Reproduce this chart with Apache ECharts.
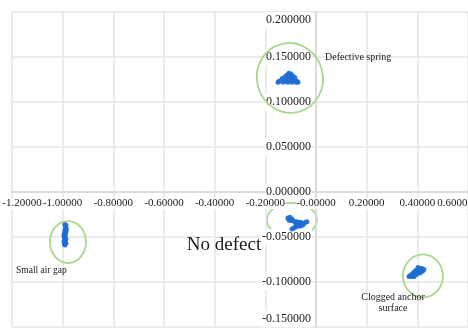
<!DOCTYPE html>
<html>
<head>
<meta charset="utf-8">
<script src="https://cdn.jsdelivr.net/npm/echarts@6/dist/echarts.min.js"></script>
<style>
  html, body { margin: 0; padding: 0; background: #fff; }
  #chart { width: 468px; height: 332px; }
</style>
</head>
<body>
<div id="chart"></div>
<script>
// Feature-space clusters for each solenoid condition (x, y)
const defectiveSpring = [
  [-0.107, 0.132], [-0.099, 0.131], [-0.114, 0.130], [-0.103, 0.129], [-0.091, 0.129],
  [-0.122, 0.128], [-0.111, 0.127], [-0.095, 0.127], [-0.083, 0.127], [-0.134, 0.126],
  [-0.118, 0.124], [-0.103, 0.124], [-0.087, 0.124], [-0.075, 0.123], [-0.146, 0.123],
  [-0.122, 0.123], [-0.130, 0.122], [-0.111, 0.122], [-0.095, 0.122], [-0.079, 0.122],
  [-0.150, 0.122], [-0.071, 0.122]
];
const smallAirGap = [
  [-0.991, -0.036], [-0.987, -0.037], [-0.989, -0.039], [-0.985, -0.041], [-0.991, -0.042],
  [-0.987, -0.044], [-0.993, -0.045], [-0.989, -0.047], [-0.995, -0.048], [-0.991, -0.050],
  [-0.993, -0.051], [-0.987, -0.052], [-0.991, -0.054], [-0.995, -0.055], [-0.989, -0.056],
  [-0.993, -0.058], [-0.991, -0.059], [-0.987, -0.057]
];
const noDefect = [
  [-0.111, -0.029], [-0.103, -0.028], [-0.095, -0.030], [-0.107, -0.031], [-0.091, -0.032],
  [-0.083, -0.033], [-0.075, -0.033], [-0.067, -0.034], [-0.059, -0.034], [-0.051, -0.036],
  [-0.043, -0.034], [-0.036, -0.033], [-0.079, -0.036], [-0.071, -0.037], [-0.079, -0.039],
  [-0.087, -0.040], [-0.095, -0.041], [-0.063, -0.038], [-0.055, -0.037], [-0.099, -0.032]
];
const cloggedAnchor = [
  [0.403, -0.084], [0.411, -0.085], [0.418, -0.085], [0.426, -0.086], [0.395, -0.087],
  [0.403, -0.087], [0.411, -0.087], [0.420, -0.088], [0.387, -0.089], [0.395, -0.089],
  [0.403, -0.090], [0.411, -0.090], [0.379, -0.091], [0.387, -0.092], [0.395, -0.092],
  [0.371, -0.093], [0.379, -0.094], [0.387, -0.094], [0.367, -0.094]
];

// Axis ranges and tick spacing
const xRange = [-1.2, 0.6];
const xStep = 0.2;
const yRange = [-0.15, 0.2];
const yStep = 0.05;

// Group outlines: centre in data units, radii in px
const outlines = [
  { name: 'Defective spring', center: [-0.103, 0.1267], rx: 33, ry: 35, rot: 0.25, under: false },
  { name: 'Small air gap', center: [-0.979, -0.0556], rx: 18, ry: 21, rot: 0, under: false },
  { name: 'No defect', center: [-0.095, -0.031], rx: 25, ry: 17, rot: 0, under: true },
  { name: 'Clogged anchor', center: [0.422, -0.0933], rx: 20, ry: 21.5, rot: 0, under: false }
];

// Group captions anchored in data units
const captions = [
  { text: 'Defective spring', at: [0.0355, 0.150], size: 10, align: 'left' },
  { text: 'Small air gap', at: [-1.184, -0.0867], size: 9.5, align: 'left' },
  { text: 'No defect', at: [-0.363, -0.059], size: 19, align: 'center' },
  { text: 'Clogged anchor\nsurface', at: [0.304, -0.123], size: 10, align: 'center' }
];

const FONT = '"Liberation Serif", "Times New Roman", serif';
const BLUE = '#1c6dd0';
const GREEN = '#a9d78f';
const X_FONT = 11;

const chart = echarts.init(document.getElementById('chart'), null, { renderer: 'canvas' });

function scatter(name, data) {
  return {
    name: name,
    type: 'scatter',
    data: data,
    z: 4,
    symbolSize: 5,
    itemStyle: { color: BLUE, opacity: 0.9 }
  };
}

function xTickText(v) {
  // zero tick carries a negative sign in the source export
  const s = Math.abs(v) < 1e-9 ? '-0.00000' : v.toFixed(5);
  // end labels are nudged inwards so they stay on the canvas
  if (Math.abs(v - xRange[0]) < 1e-9) return '{lead|' + s + '}';
  if (Math.abs(v - xRange[1]) < 1e-9) return '{tail|' + s + '}';
  return s;
}

const xRich = { fontFamily: FONT, fontSize: X_FONT, color: '#222' };

chart.setOption({
  animation: false,
  backgroundColor: '#ffffff',
  grid: { left: 12, right: 0, top: 12, bottom: 5, containLabel: false, outerBoundsMode: 'none' },
  xAxis: {
    type: 'value',
    min: xRange[0], max: xRange[1], interval: xStep,
    z: 3,
    axisLine: { onZero: false, lineStyle: { color: '#d6d6d6', width: 1.5 } },
    axisTick: { show: false },
    splitLine: { lineStyle: { color: '#e4e4e4', width: 1.5 } },
    axisLabel: {
      margin: 6,
      fontFamily: FONT, fontSize: X_FONT, color: '#222',
      backgroundColor: '#fff', padding: 0,
      showMinLabel: true, showMaxLabel: true,
      hideOverlap: false,
      formatter: xTickText,
      rich: {
        lead: Object.assign({ padding: [0, 0, 0, 20] }, xRich),
        tail: Object.assign({ padding: [0, 26, 0, 0] }, xRich)
      }
    }
  },
  yAxis: {
    type: 'value',
    min: yRange[0], max: yRange[1], interval: yStep,
    z: 3,
    axisLine: { onZero: false, lineStyle: { color: '#d6d6d6', width: 1.5 } },
    axisTick: { show: false },
    splitLine: { lineStyle: { color: '#e4e4e4', width: 1.5 } },
    axisLabel: {
      margin: 4,
      fontFamily: FONT, fontSize: 12, color: '#222',
      backgroundColor: '#fff', padding: [2, 1],
      showMinLabel: true, showMaxLabel: true,
      verticalAlignMinLabel: 'bottom', verticalAlignMaxLabel: 'top',
      formatter: v => (Math.abs(v) < 1e-9 ? '0.000000' : v.toFixed(6))
    }
  },
  series: [
    scatter('Defective spring', defectiveSpring),
    scatter('Small air gap', smallAirGap),
    scatter('No defect', noDefect),
    scatter('Clogged anchor surface', cloggedAnchor)
  ]
});

// Shift both axes (line + labels) so they cross at the origin
const origin = chart.convertToPixel({ gridIndex: 0 }, [0, 0]);
const corner = chart.convertToPixel({ gridIndex: 0 }, [xRange[0], yRange[0]]);
chart.setOption({
  xAxis: { offset: origin[1] - corner[1] },
  yAxis: { offset: corner[0] - origin[0] }
});

// Outlines and captions placed through the grid's coordinate system
const graphics = [];
outlines.forEach(o => {
  const p = chart.convertToPixel({ gridIndex: 0 }, o.center);
  graphics.push({
    type: 'ellipse',
    x: p[0], y: p[1], rotation: o.rot,
    z: o.under ? 1 : 6,
    shape: { cx: 0, cy: 0, rx: o.rx, ry: o.ry },
    style: { fill: 'none', stroke: GREEN, lineWidth: 1.8 }
  });
});
captions.forEach(c => {
  const p = chart.convertToPixel({ gridIndex: 0 }, c.at);
  graphics.push({
    type: 'text',
    x: p[0], y: p[1],
    z: 7,
    style: {
      text: c.text,
      font: c.size + 'px ' + FONT,
      fill: '#1a1a1a',
      align: c.align,
      verticalAlign: 'middle',
      lineHeight: c.size + 0.5
    }
  });
});
chart.setOption({ graphic: graphics });
</script>
</body>
</html>
